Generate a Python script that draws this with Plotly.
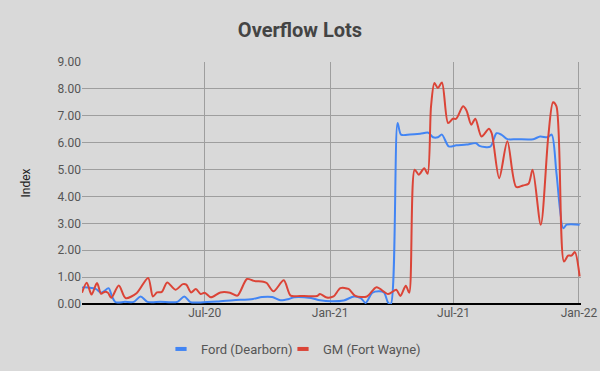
import plotly.graph_objects as go

ford_dates = [
    "2020-01-03", "2020-01-06", "2020-01-23", "2020-01-31", "2020-02-04", "2020-02-11",
    "2020-02-16", "2020-02-21", "2020-03-06", "2020-03-19", "2020-03-29", "2020-04-08",
    "2020-04-27", "2020-05-22", "2020-06-01", "2020-06-10", "2020-06-25", "2020-07-19",
    "2020-08-12", "2020-09-10", "2020-09-23", "2020-10-08", "2020-10-20", "2020-11-02",
    "2020-11-09", "2020-12-04", "2020-12-17", "2021-01-03", "2021-01-21", "2021-02-05",
    "2021-02-15", "2021-02-22", "2021-03-04", "2021-03-14", "2021-03-21", "2021-03-27",
    "2021-03-31", "2021-04-10", "2021-04-15", "2021-04-28", "2021-05-13", "2021-05-25",
    "2021-06-01", "2021-06-08", "2021-06-14", "2021-06-24", "2021-07-05", "2021-07-20",
    "2021-08-03", "2021-08-08", "2021-08-24", "2021-09-02", "2021-09-09", "2021-09-18",
    "2021-10-02", "2021-10-26", "2021-11-05", "2021-11-16", "2021-11-22", "2021-11-29",
    "2021-12-09", "2021-12-14", "2022-01-02",
]
ford_values = [
    0.60, 0.62, 0.56, 0.42, 0.47, 0.59,
    0.28, 0.07, 0.08, 0.08, 0.28, 0.08,
    0.08, 0.08, 0.28, 0.07, 0.06, 0.09,
    0.14, 0.19, 0.26, 0.26, 0.14, 0.19,
    0.25, 0.22, 0.14, 0.10, 0.13, 0.28,
    0.22, 0.04, 0.42, 0.47, 0.43, 0.05,
    0.00, 6.73, 6.30, 6.30, 6.33, 6.37,
    6.20, 6.20, 6.30, 5.86, 5.90, 5.93,
    5.98, 5.88, 5.85, 6.35, 6.30, 6.13,
    6.13, 6.13, 6.23, 6.20, 6.30, 4.87,
    2.82, 2.95, 2.95,
]

gm_dates = [
    "2020-01-03", "2020-01-10", "2020-01-17", "2020-01-25", "2020-01-31", "2020-02-05",
    "2020-02-10", "2020-02-15", "2020-02-26", "2020-03-07", "2020-03-23", "2020-04-09",
    "2020-04-16", "2020-04-22", "2020-04-29", "2020-05-07", "2020-05-19", "2020-05-30",
    "2020-06-04", "2020-06-11", "2020-06-18", "2020-06-25", "2020-07-01", "2020-07-10",
    "2020-07-24", "2020-08-07", "2020-08-18", "2020-09-01", "2020-09-11", "2020-09-25",
    "2020-09-30", "2020-10-10", "2020-10-25", "2020-11-04", "2020-11-18", "2020-12-13",
    "2020-12-17", "2020-12-27", "2021-01-06", "2021-01-16", "2021-01-28", "2021-02-07",
    "2021-02-24", "2021-03-10", "2021-03-27", "2021-04-08", "2021-04-14", "2021-04-22",
    "2021-04-27", "2021-05-05", "2021-05-11", "2021-05-19", "2021-05-24", "2021-05-29",
    "2021-06-03", "2021-06-08", "2021-06-14", "2021-06-23", "2021-06-30", "2021-07-05",
    "2021-07-15", "2021-07-20", "2021-07-27", "2021-08-02", "2021-08-11", "2021-08-22",
    "2021-08-26", "2021-09-06", "2021-09-18", "2021-10-01", "2021-10-11", "2021-10-19",
    "2021-10-25", "2021-11-06", "2021-11-17", "2021-11-24", "2021-11-29", "2021-12-10",
    "2021-12-16", "2021-12-21", "2021-12-26", "2022-01-02",
]
gm_values = [
    0.42, 0.79, 0.35, 0.78, 0.38, 0.45,
    0.42, 0.23, 0.69, 0.22, 0.40, 0.97,
    0.28, 0.43, 0.45, 0.80, 0.53, 0.74,
    0.72, 0.43, 0.56, 0.37, 0.42, 0.25,
    0.43, 0.42, 0.31, 0.93, 0.86, 0.83,
    0.78, 0.47, 0.88, 0.31, 0.30, 0.30,
    0.37, 0.24, 0.28, 0.59, 0.56, 0.30,
    0.28, 0.62, 0.37, 0.53, 0.30, 0.68,
    0.42, 4.99, 4.81, 5.05, 4.84, 7.35,
    8.22, 8.03, 8.24, 6.73, 6.89, 6.89,
    7.35, 7.20, 6.67, 6.89, 6.23, 6.52,
    6.35, 4.68, 6.05, 4.35, 4.41, 4.47,
    4.99, 2.95, 6.23, 7.50, 7.35, 1.58,
    1.80, 1.80, 1.93, 1.03,
]

series_names = ["Ford (Dearborn)", "GM (Fort Wayne)"]
series_colors = ["#4285f4", "#db4437"]

tick_vals = ["2020-07-01", "2021-01-01", "2021-07-01", "2022-01-01"]
tick_text = ["Jul-20", "Jan-21", "Jul-21", "Jan-22"]
y_ticks = [0, 1, 2, 3, 4, 5, 6, 7, 8, 9]

BG = "#d9d9d9"
FONT = "Roboto, Arial, sans-serif"

fig = go.Figure()
for name, color, xs, ys in zip(series_names, series_colors,
                               [ford_dates, gm_dates], [ford_values, gm_values]):
    fig.add_trace(go.Scatter(
        x=xs, y=ys, name=name, mode="lines", showlegend=False, legendgroup=name,
        line=dict(color=color, width=2, shape="spline", smoothing=0.8),
    ))
# legend-only entries with short thick bar symbols, one legend each
for name, color, leg in zip(series_names, series_colors, ["legend", "legend2"]):
    fig.add_trace(go.Scatter(
        x=[None], y=[None], name=name, mode="markers", legendgroup=name, legend=leg,
        marker=dict(symbol="line-ew-open", size=8, color=color,
                    line=dict(width=4, color=color)),
    ))

leg_common = dict(orientation="h", xref="container", xanchor="left",
                  yref="container", y=(371 - 334) / 371, yanchor="top",
                  font=dict(family=FONT, size=13, color="#555555"),
                  bgcolor="rgba(0,0,0,0)")

fig.update_layout(
    width=600, height=371,
    paper_bgcolor=BG, plot_bgcolor=BG,
    margin=dict(l=82, r=19, t=62, b=67, autoexpand=False),
    font=dict(family=FONT, size=12, color="#555555"),
    title=dict(text="<b>Overflow Lots</b>", x=0.5, xanchor="center",
               yref="container", y=0.918, yanchor="middle",
               font=dict(family=FONT, size=20, color="#444444")),
    showlegend=True,
    legend=dict(x=161 / 600, **leg_common),
    legend2=dict(x=283 / 600, **leg_common),
    xaxis=dict(
        type="date", range=["2020-01-03", "2022-01-04"],
        tickvals=tick_vals, ticktext=tick_text, automargin=False,
        showgrid=True, gridcolor="#9e9e9e", gridwidth=1,
        showline=False, zeroline=False, ticks="",
        tickfont=dict(family=FONT, size=12, color="#555555"),
    ),
    yaxis=dict(
        range=[0, 9], tickvals=y_ticks, tickformat=".2f", automargin=False,
        showgrid=True, gridcolor="#9e9e9e", gridwidth=1,
        zeroline=True, zerolinecolor="#000000", zerolinewidth=1.5,
        showline=False, ticks="",
        tickfont=dict(family=FONT, size=12, color="#555555"),
        title=dict(text="Index", font=dict(family=FONT, size=12, color="#222222"), standoff=24),
    ),
)

fig.write_html(
    "out.html",
    config={"displayModeBar": False},
    post_script="document.body.style.margin='0';document.body.style.overflow='hidden';"
                "document.body.style.background='#d9d9d9';",
)
